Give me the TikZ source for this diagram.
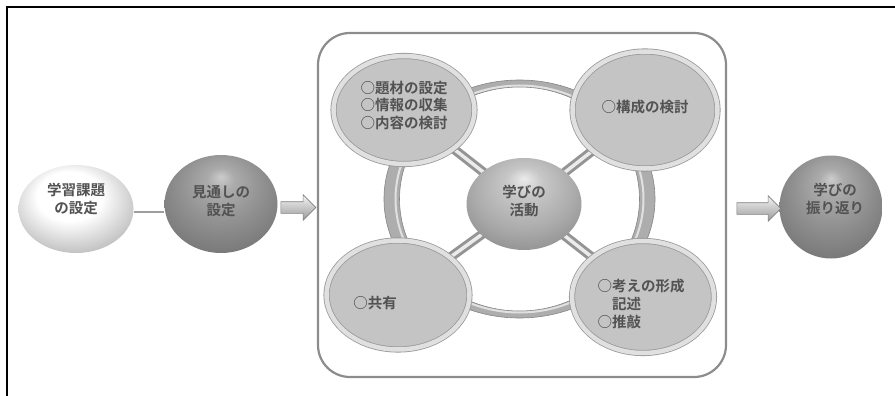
\documentclass[tikz,border=0pt]{standalone}
\usepackage{fontspec}
\newfontfamily\jp[BoldFont={Noto Sans CJK JP Bold}]{Noto Sans CJK JP}
\usetikzlibrary{shapes.geometric,shapes.arrows,backgrounds,shadows}
\pgfdeclareradialshading{whiteball}{\pgfpoint{-4bp}{10bp}}{color(0bp)=(white); color(14bp)=(white); color(28bp)=(black!22); color(36bp)=(black!34); color(50bp)=(black!34)}
\pgfdeclareradialshading{darkball}{\pgfpoint{0bp}{14bp}}{color(0bp)=(black!20); color(6bp)=(black!33); color(18bp)=(black!43); color(30bp)=(black!52); color(38bp)=(black!57); color(50bp)=(black!57)}
\pgfdeclareradialshading{midball}{\pgfpoint{0bp}{14bp}}{color(0bp)=(black!8); color(8bp)=(black!22); color(22bp)=(black!33); color(34bp)=(black!45); color(50bp)=(black!45)}
\tikzset{
  lbl/.style={font=\jp\bfseries\fontsize{14.5}{17.8}\selectfont, text=black!68, inner sep=0pt},
  sph/.style={ellipse, inner sep=0pt, shading=#1},
  bigell/.style={ellipse, inner sep=0pt, fill=black!23, draw=black!40, line width=0.8pt,
     double=black!12, double distance=4.5pt,
     drop shadow={shadow xshift=1.5pt, shadow yshift=-1.5pt, opacity=0.3, fill=black}},
  blockarrow/.style={single arrow, inner xsep=0pt, inner ysep=5.5pt, minimum width=25pt,
     single arrow head extend=7pt, top color=black!4, bottom color=black!40,
     draw=black!50, line width=0.6pt},
  spoke/.style={draw=black!42, double=black!8, double distance=3.5pt, line width=3pt},
}
\begin{document}
\begin{tikzpicture}[x=1pt, y=-1pt]
\useasboundingbox (0,0) rectangle (895,396);
% outer frame (only top and left edges visible)
\draw[line width=1.6pt] (7,396) -- (7,7) -- (895,7);
% activity box
\node[draw=black!45, line width=2.2pt, rounded corners=32pt, minimum width=408pt,
      minimum height=344pt, inner sep=0pt] (box) at (522,205) {};
% spheres on the left and right
\node[sph=whiteball, minimum width=115pt, minimum height=88pt] (s1) at (76,209) {};
\node[sph=darkball, minimum width=113pt, minimum height=98pt] (s2) at (221,204) {};
\node[sph=darkball, minimum width=103pt, minimum height=103pt] (s3) at (831,207) {};
% block arrows
\node[blockarrow, minimum height=35pt] (ar1) at (295.5,207.5) {};
\node[blockarrow, minimum height=44pt] (ar2) at (756,208.5) {};
% four activity ellipses
\node[bigell, minimum width=141pt, minimum height=108pt] (ea) at (404,110) {};
\node[bigell, minimum width=145pt, minimum height=117pt] (eb) at (645,110) {};
\node[bigell, minimum width=143pt, minimum height=109pt] (ec) at (398,295) {};
\node[bigell, minimum width=142pt, minimum height=112pt] (ed) at (643,297) {};
% central sphere
\node[sph=midball, minimum width=115pt, minimum height=92pt] (m) at (524,204) {};
% ring, spokes and the connecting line, beneath everything
\begin{scope}[on background layer]
  \coordinate (cr) at (519.5,199);
  \fill[black!32, even odd rule, draw=black!48, line width=0.6pt]
     (cr) ellipse [x radius=135.5pt, y radius=119pt]
     (cr) ellipse [x radius=120pt, y radius=112pt];
  \draw[black!12, line width=2pt] (cr) ellipse [x radius=124pt, y radius=113.5pt];
  \draw[spoke] (m.center) -- (ea.center);
  \draw[spoke] (m.center) -- (eb.center);
  \draw[spoke] (m.center) -- (ec.center);
  \draw[spoke] (m.center) -- (ed.center);
  \draw[black!38, line width=1.6pt] ([yshift=-3pt]s1.east) -- ([yshift=-8pt]s2.west);
\end{scope}
% labels
\node[lbl, align=center] (t1) at (76,199) {学習課題\\の設定};
\node[lbl, align=center] (t2) at (221,201) {見通しの\\設定};
\node[lbl, align=center] (t3) at (835,199) {学びの\\振り返り};
\node[lbl, align=center] (tm) at (524,201) {学びの\\活動};
\node[lbl, align=left] (ta) at (404,105.5) {○題材の設定\\○情報の収集\\○内容の検討};
\node[lbl] (tb) at (645,107) {○構成の検討};
\node[lbl] (tc) at (375,303) {○共有};
\node[lbl, align=left] (td) at (641,304) {○考えの形成\\　記述\\○推敲};
\end{tikzpicture}
\end{document}
